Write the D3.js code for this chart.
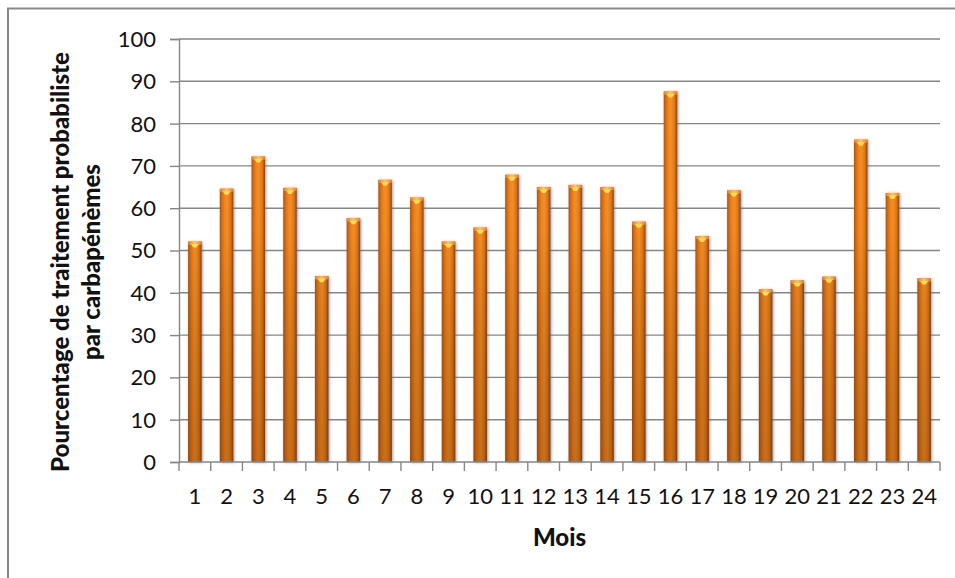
<!DOCTYPE html>
<html>
<head>
<meta charset="utf-8">
<script src="https://cdn.jsdelivr.net/npm/d3@7"></script>
<style>
  html, body { margin: 0; padding: 0; background: #fff; }
  svg { display: block; }
  text { font-family: Lato, "Open Sans", sans-serif; fill: #111; }
</style>
</head>
<body>
<svg id="chart" width="955" height="578"></svg>
<script>
// Monthly share of empirical carbapenem treatment (%)
const months = ["1","2","3","4","5","6","7","8","9","10","11","12",
                "13","14","15","16","17","18","19","20","21","22","23","24"];
const values = [52.1, 64.6, 72.2, 64.8, 43.9, 57.6, 66.7, 62.5, 52.1, 55.4, 67.9, 65.0,
                65.5, 65.0, 56.8, 87.6, 53.4, 64.2, 40.8, 42.9, 43.8, 76.2, 63.6, 43.4];
const yTicks = [0, 10, 20, 30, 40, 50, 60, 70, 80, 90, 100];
const yTitleLines = ["Pourcentage de traitement probabiliste", "par carbapénèmes"];
const xTitle = "Mois";

const svg = d3.select("#chart");
const W = 955, H = 578;
const plot = { left: 179, right: 940, top: 39, bottom: 462 };

// outer chart frame
svg.append("rect")
  .attr("x", 8).attr("y", 8.5)
  .attr("width", W + 10).attr("height", H + 10)
  .attr("fill", "none").attr("stroke", "#888").attr("stroke-width", 2);

const x = d3.scaleBand().domain(months)
  .range([plot.left, plot.right])
  .paddingInner(0.575).paddingOuter(0.2875);
const y = d3.scaleLinear().domain([0, 100]).range([plot.bottom, plot.top]);

const defs = svg.append("defs");
// cylinder shading across each bar
const gH = defs.append("linearGradient").attr("id", "barH")
  .attr("x1", "0").attr("x2", "1").attr("y1", "0").attr("y2", "0");
[[0, "#a35310"], [0.12, "#d06a15"], [0.35, "#f3871e"], [0.55, "#f98f26"],
 [0.8, "#e07818"], [0.92, "#af5a11"], [1, "#86440b"]]
  .forEach(([o, c]) => gH.append("stop").attr("offset", o).attr("stop-color", c));
// darkening toward the base
const gV = defs.append("linearGradient").attr("id", "barV")
  .attr("gradientUnits", "userSpaceOnUse")
  .attr("x1", 0).attr("x2", 0)
  .attr("y1", plot.top).attr("y2", plot.bottom);
[[0, "#000", 0], [0.45, "#000", 0.02], [1, "#5a2400", 0.3]]
  .forEach(([o, c, a]) => gV.append("stop").attr("offset", o)
    .attr("stop-color", c).attr("stop-opacity", a));
// top cap shading
const gC = defs.append("linearGradient").attr("id", "cap")
  .attr("x1", "0").attr("x2", "1").attr("y1", "0").attr("y2", "0");
[[0, "#d9852e"], [0.5, "#ffc27a"], [1, "#d98530"]]
  .forEach(([o, c]) => gC.append("stop").attr("offset", o).attr("stop-color", c));
const f = defs.append("filter").attr("id", "shadow")
  .attr("x", "-60%").attr("y", "-5%").attr("width", "220%").attr("height", "110%");
f.append("feDropShadow").attr("dx", 1).attr("dy", 0.5)
  .attr("stdDeviation", 1.8).attr("flood-color", "#707070").attr("flood-opacity", 0.7);

// horizontal gridlines
svg.append("g").selectAll("line").data(yTicks.filter(t => t > 0)).join("line")
  .attr("x1", plot.left).attr("x2", plot.right)
  .attr("y1", d => y(d)).attr("y2", d => y(d))
  .attr("stroke", "#868686").attr("stroke-width", 1.4);

// y axis
const yAxis = svg.append("g").attr("transform", `translate(${plot.left},0)`)
  .call(d3.axisLeft(y).tickValues(yTicks).tickSize(9).tickPadding(14));
yAxis.select(".domain").attr("stroke", "#868686").attr("stroke-width", 1.4);
yAxis.selectAll(".tick line").attr("stroke", "#868686").attr("stroke-width", 1.4);
yAxis.selectAll(".tick text")
  .style("font-family", "Lato, 'Open Sans', sans-serif")
  .style("font-size", "22px").attr("fill", "#111").attr("dy", "0.34em");

// bars
const bars = svg.append("g");
months.forEach((m, i) => {
  const bx = x(m), bw = x.bandwidth(), top = y(values[i]);
  const g = bars.append("g");
  g.append("rect").attr("x", bx).attr("y", top).attr("width", bw)
    .attr("height", plot.bottom - top).attr("fill", "url(#barH)")
    .attr("filter", "url(#shadow)");
  g.append("rect").attr("x", bx).attr("y", top).attr("width", bw)
    .attr("height", plot.bottom - top).attr("fill", "url(#barV)");
  g.append("rect").attr("x", bx).attr("y", top).attr("width", bw)
    .attr("height", 3).attr("fill", "url(#cap)");
  const cx = bx + bw / 2;
  g.append("path")
    .attr("d", `M${cx - 4},${top + 2.5} L${cx + 4},${top + 2.5} L${cx + 1.5},${top + 6} L${cx - 1.5},${top + 6} Z`)
    .attr("fill", "#ffdf52");
});

// x axis: baseline, boundary ticks, labels
const xg = svg.append("g");
xg.append("line").attr("x1", plot.left).attr("x2", plot.right)
  .attr("y1", plot.bottom).attr("y2", plot.bottom)
  .attr("stroke", "#868686").attr("stroke-width", 1.4);
const step = x.step();
const bounds = d3.range(months.length + 1).map(i => plot.left + i * step);
xg.selectAll("line.tk").data(bounds).join("line").attr("class", "tk")
  .attr("x1", d => d).attr("x2", d => d)
  .attr("y1", plot.bottom).attr("y2", plot.bottom + 9)
  .attr("stroke", "#868686").attr("stroke-width", 1.4);
xg.selectAll("text").data(months).join("text")
  .attr("x", d => x(d) + x.bandwidth() / 2).attr("y", 496)
  .attr("dy", "0.35em").attr("text-anchor", "middle")
  .style("font-size", "22px").text(d => d);

// axis titles
svg.append("text").attr("x", (plot.left + plot.right) / 2).attr("y", 538)
  .attr("dy", "0.35em").attr("text-anchor", "middle")
  .style("font-size", "24px").style("font-weight", "900").text(xTitle);

const yt = svg.append("text")
  .attr("transform", "translate(61,262) rotate(-90)")
  .attr("text-anchor", "middle")
  .style("font-size", "24px").style("font-weight", "900");
yTitleLines.forEach((t, i) => {
  yt.append("tspan").attr("x", 0).attr("y", i * 31).attr("dy", "0.35em").text(t);
});
</script>
</body>
</html>
